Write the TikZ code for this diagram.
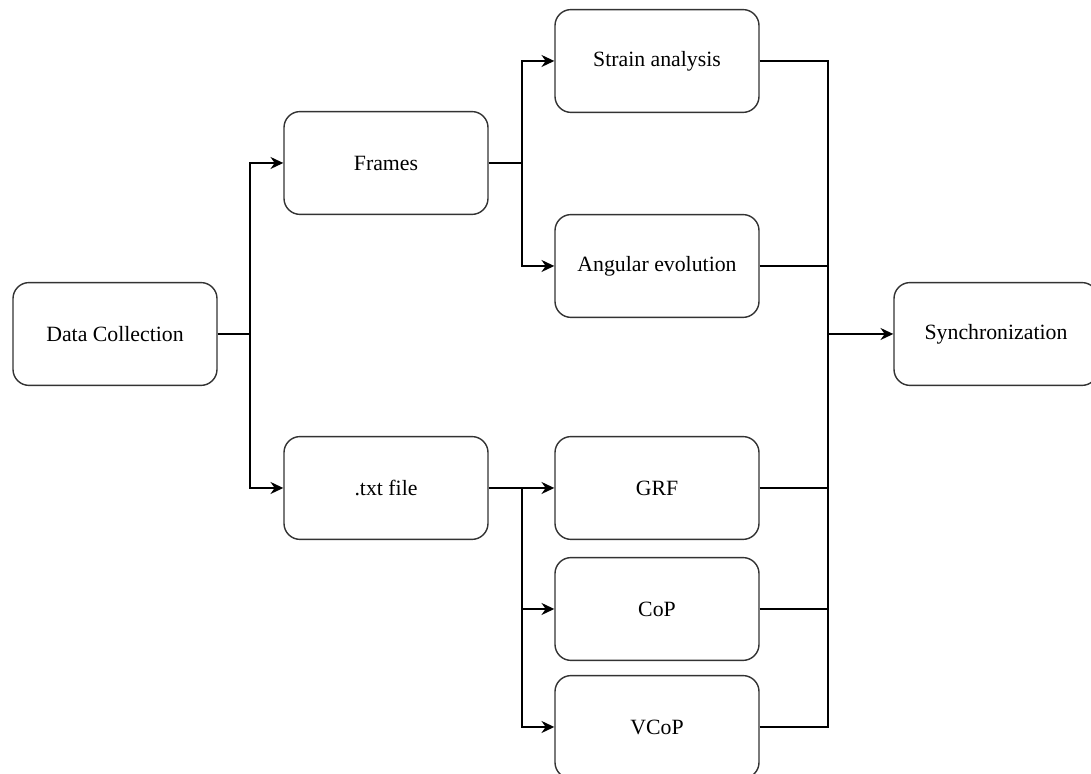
\documentclass[tikz,border=0pt]{standalone}
\usepackage{fontspec}
\setmainfont{Liberation Serif}
\usetikzlibrary{arrows.meta,positioning}
\tikzset{
  etape/.style={draw=black!80, line width=1pt, rounded corners=0.4cm,
    minimum width=5.1cm, minimum height=2.57cm, font=\fontsize{15.5}{18}\selectfont},
  trait/.style={line width=1.2pt},
  fleche/.style={trait, -{Stealth[length=0.32cm,width=0.3cm]}}
}
\begin{document}
\begin{tikzpicture}
        \useasboundingbox (0,0) rectangle (27.275,19.35);
        % noeuds
        \node[etape] (collecte) at (2.875,11) {Data Collection};
        \node[etape] (frames) at (9.65,15.275) {Frames};
        \node[etape] (txt) at (9.65,7.15) {.txt file};
        \node[etape] (strain) at (16.425,17.825) {Strain analysis};
        \node[etape] (angular) at (16.425,12.7) {Angular evolution};
        \node[etape] (grf) at (16.425,7.15) {GRF};
        \node[etape] (cop) at (16.425,4.125) {CoP};
        \node[etape] (vcop) at (16.425,1.175) {VCoP};
        \node[etape] (sync) at (24.9,11) {Synchronization};
        \coordinate (j1) at (6.25,11);
        \coordinate (j2) at (13.05,15.275);
        \coordinate (j3) at (13.05,7.15);
        \coordinate (j4) at (20.7,11);
        % fleches
        \draw[trait] (collecte.east) -- (j1);
        \draw[fleche] (j1) |- (frames.west);
        \draw[fleche] (j1) |- (txt.west);
        \draw[trait] (frames.east) -- (j2);
        \draw[fleche] (j2) |- (strain.west);
        \draw[fleche] (j2) |- (angular.west);
        \draw[fleche] (txt.east) -- (grf.west);
        \draw[fleche] (j3) |- (cop.west);
        \draw[fleche] (j3) |- (vcop.west);
        \foreach \n in {strain,angular,grf,cop,vcop}
            \draw[trait] (\n.east) -| (j4);
        \draw[fleche] (j4) -- (sync.west);
\end{tikzpicture}
\end{document}
